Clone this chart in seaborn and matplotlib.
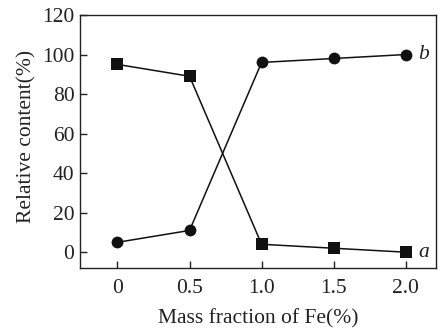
import matplotlib
matplotlib.use("Agg")
import matplotlib.pyplot as plt
import seaborn as sns
import pandas as pd

# Mass fraction of Fe (%) and relative content (%) of the two phases
fe_fraction = [0, 0.5, 1.0, 1.5, 2.0]
content_a = [95, 89, 4, 2, 0]
content_b = [5, 11, 96, 98, 100]
x_tick_labels = ["0", "0.5", "1.0", "1.5", "2.0"]
y_ticks = [0, 20, 40, 60, 80, 100, 120]

df = pd.DataFrame({
    "fe": fe_fraction * 2,
    "content": content_a + content_b,
    "series": ["a"] * len(fe_fraction) + ["b"] * len(fe_fraction),
})

sns.set_style("ticks")
plt.rcParams["font.family"] = ["Liberation Serif", "DejaVu Serif"]

fig = plt.figure(figsize=(4.47, 3.29), dpi=100)
ax = fig.add_axes([80 / 447, 1 - 268 / 329, (436 - 80) / 447, (268 - 15) / 329])

sns.lineplot(
    data=df, x="fe", y="content", hue="series", style="series",
    markers={"a": "s", "b": "o"}, dashes=False,
    palette={"a": "#111111", "b": "#111111"},
    markersize=8.5, linewidth=1.1, markeredgewidth=0,
    legend=False, ax=ax,
)

ax.set_xlim(-0.26, 2.21)
ax.set_ylim(-8, 120)
ax.set_xticks(fe_fraction)
ax.set_xticklabels(x_tick_labels)
ax.set_yticks(y_ticks)

ax.tick_params(axis="both", direction="in", length=5, width=1, labelsize=15.5,
               colors="#222222", top=False, right=False)
ax.tick_params(axis="x", pad=8)
ax.tick_params(axis="y", pad=4)
for side in ax.spines.values():
    side.set_linewidth(1.0)
    side.set_color("#222222")

ax.set_xlabel("Mass fraction of Fe(%)", fontsize=15.5, color="#222222", labelpad=8)
ax.set_ylabel("Relative content(%)", fontsize=15.5, color="#222222")
ax.yaxis.set_label_coords(-0.122, 0.52)

ax.text(2.125, content_b[-1], "b", style="italic", fontsize=15.5,
        ha="center", va="center", color="#222222")
ax.text(2.125, content_a[-1], "a", style="italic", fontsize=15.5,
        ha="center", va="center", color="#222222")

fig.savefig("out.png", dpi=100)
